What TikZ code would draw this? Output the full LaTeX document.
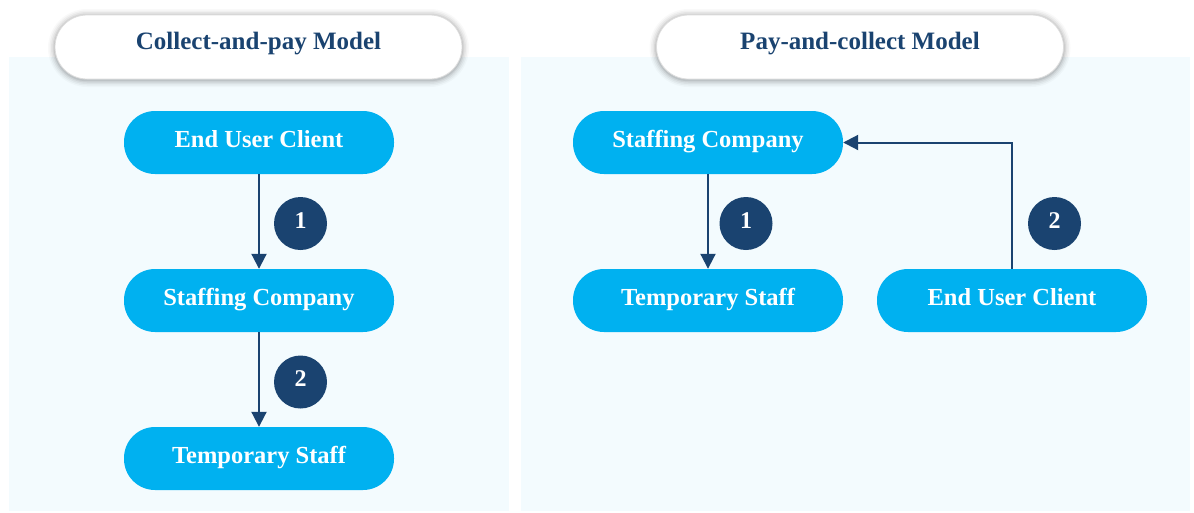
\documentclass[tikz,border=0pt]{standalone}
\usepackage{fontspec}
\setmainfont{Liberation Serif}
\usetikzlibrary{arrows.meta}
\definecolor{panelbg}{HTML}{F3FBFE}
\definecolor{nodeblue}{HTML}{00B1F0}
\definecolor{darkblue}{HTML}{1A4370}
\definecolor{pillborder}{HTML}{DDDDDD}
\tikzset{
  flowbox/.style={rectangle, rounded corners=31pt, fill=nodeblue, text=white,
    minimum width=270pt, minimum height=63pt, inner sep=0pt,
    font=\bfseries\fontsize{24.5}{28}\selectfont, text height=9pt, text depth=0pt},
  titlepill/.style={rectangle, rounded corners=32pt, fill=white, draw=pillborder, line width=0.8pt,
    minimum width=407pt, minimum height=64pt, inner sep=0pt, text=darkblue,
    font=\bfseries\fontsize{25}{29}\selectfont, text height=5pt, text depth=0pt},
  stepnum/.style={circle, fill=darkblue, text=white, minimum size=53pt, inner sep=0pt,
    font=\bfseries\fontsize{24}{28}\selectfont, text height=9pt, text depth=0pt},
  flowarrow/.style={draw=darkblue, line width=2pt, -{Triangle[width=15pt,length=15pt]}},
  panel/.style={fill=panelbg, draw=none}
}
\begin{document}
\begin{tikzpicture}[x=1pt,y=-1pt]
\useasboundingbox (0,0) rectangle (1194,512);
\fill[white] (0,0) rectangle (1194,512);
% panels
\path[panel] (9,57) rectangle (509,511);
\path[panel] (521,57) rectangle (1190,511);
% title pill shadows
\foreach \cx in {258.5,860} {
  \foreach \s/\o in {7/0.025,5.5/0.035,4/0.045,2.5/0.06,1.2/0.08} {
    \fill[black, opacity=\o, rounded corners={32pt+\s pt}]
      ({\cx-203.5-\s},{15-\s+1}) rectangle ({\cx+203.5+\s},{79+\s+1});
  }
}
% titles
\node[titlepill] (t1) at (258.5,47) {Collect-and-pay Model};
\node[titlepill] (t2) at (860,47) {Pay-and-collect Model};
% left flow
\node[flowbox] (l1) at (259,142.5) {End User Client};
\node[flowbox] (l2) at (259,300.5) {Staffing Company};
\node[flowbox] (l3) at (259,458.5) {Temporary Staff};
\draw[flowarrow] (l1.south) -- (l2.north);
\draw[flowarrow] (l2.south) -- (l3.north);
\node[stepnum] (lc1) at (300.5,223.5) {1};
\node[stepnum] (lc2) at (300.5,382) {2};
% right flow
\node[flowbox] (r1) at (708,142.5) {Staffing Company};
\node[flowbox] (r2) at (708,300.5) {Temporary Staff};
\node[flowbox] (r3) at (1012,300.5) {End User Client};
\draw[flowarrow] (r1.south) -- (r2.north);
\coordinate (bend) at (r3.north |- r1.east);
\draw[flowarrow] (r3.north) -- (bend) -- (r1.east);
\node[stepnum] (rc1) at (746,223.5) {1};
\node[stepnum] (rc2) at (1054.5,223.5) {2};
\end{tikzpicture}
\end{document}
